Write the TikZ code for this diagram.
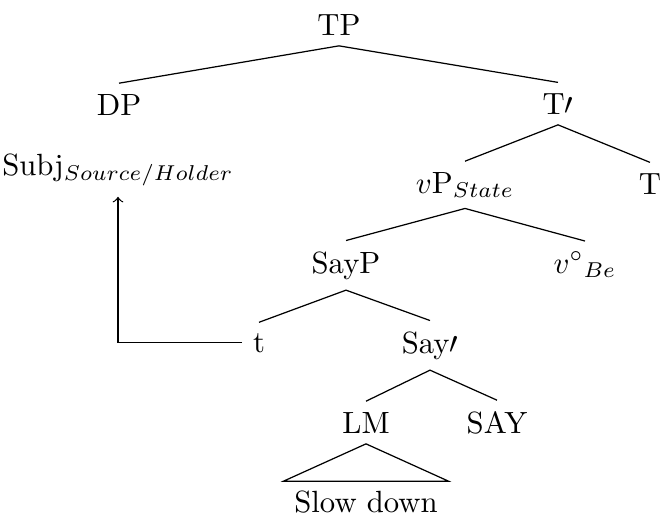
\documentclass[tikz,border=0pt]{standalone}
\newcommand{\barprime}{$\prime$}
\begin{document}
\begin{tikzpicture}[x=0.3258pt,y=-0.3258pt,
  lbl/.style={anchor=base, inner sep=3.333pt},
  branch/.style={line width=0.4pt}]
\useasboundingbox (0,0) rectangle (663,516);
\node[lbl] (tp) at (339,35) {TP};
\node[lbl] (dp) at (119,115) {DP};
\node[lbl] (tbar) at (558,114) {T\barprime};
\node[lbl] (subj) at (118,175) {Subj$_{Source/Holder}$};
\node[lbl] (vp) at (465,193) {$v$P$_{State}$};
\node[lbl] (tt) at (650,194) {T};
\node[lbl] (sayp) at (346,273) {SayP};
\node[lbl] (vbe) at (585,273) {$v^{\circ}{}_{Be}$};
\node[lbl] (tr) at (259,352) {t};
\node[lbl] (saybar) at (430,353) {Say\barprime};
\node[lbl] (lm) at (366,433) {LM};
\node[lbl] (say) at (497,433) {SAY};
\node[lbl,inner ysep=2.8pt] (slow) at (366,512) {Slow down};
\draw[branch] (dp.north) -- (tp.south) -- (tbar.north);
\draw[branch] (vp.north) -- (tbar.south) -- (tt.north);
\draw[branch] (sayp.north) -- (vp.south) -- (vbe.north);
\draw[branch] (tr.north) -- (sayp.south) -- (saybar.north);
\draw[branch] (lm.north) -- (saybar.south) -- (say.north);
\draw[branch] (lm.south) -- (slow.north west) -- (slow.north east) -- cycle;
\draw[branch,->] (tr.west) -| (subj.south);
\end{tikzpicture}
\end{document}
